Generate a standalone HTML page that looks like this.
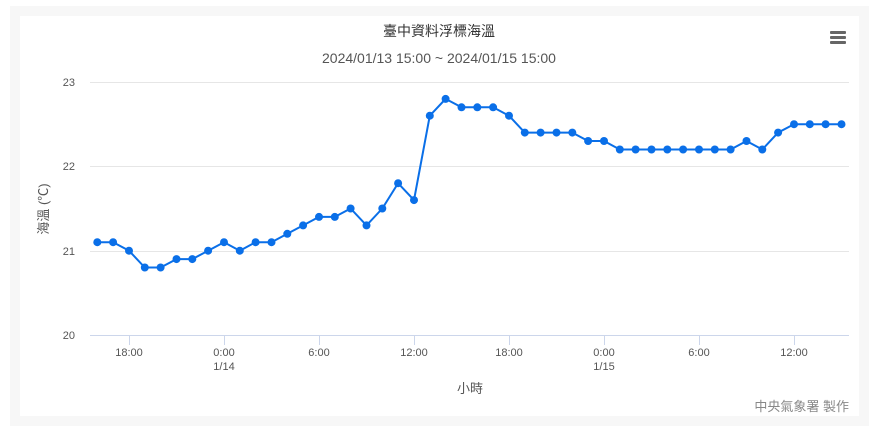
<!DOCTYPE html>
<html><head><meta charset="utf-8"><style>
html,body{margin:0;padding:0;background:#fff;}
body{width:873px;height:430px;position:relative;overflow:hidden;}
.outer{position:absolute;left:10px;top:6px;width:859px;height:420px;background:#f7f7f7;}
.inner{position:absolute;left:20px;top:16px;width:839px;height:400px;background:#fff;}
svg{position:absolute;left:0;top:0;}
text{font-family:"Liberation Sans","Noto Sans CJK TC",sans-serif;}
</style></head><body>
<div class="outer"></div><div class="inner"></div>
<svg width="873" height="430" xmlns="http://www.w3.org/2000/svg">
<defs><marker id="m" markerUnits="userSpaceOnUse" markerWidth="10" markerHeight="10" refX="5" refY="5" viewBox="0 0 10 10"><circle cx="5" cy="5" r="4" fill="#0a6fe8"/></marker></defs>
<text x="439" y="36" text-anchor="middle" font-size="14" fill="#333">臺中資料浮標海溫</text>
<text x="439" y="63" text-anchor="middle" font-size="14" fill="#555">2024/01/13 15:00 ~ 2024/01/15 15:00</text>
<g fill="#666"><rect x="830" y="31" width="16" height="3" rx="1"/><rect x="830" y="36" width="16" height="3" rx="1"/><rect x="830" y="41" width="16" height="3" rx="1"/></g>
<g stroke="#e6e6e6" stroke-width="1">
<line x1="90" x2="849" y1="82.5" y2="82.5"/><line x1="90" x2="849" y1="166.5" y2="166.5"/><line x1="90" x2="849" y1="251.5" y2="251.5"/>
</g>
<line x1="90" x2="849" y1="335.5" y2="335.5" stroke="#ccd6eb"/>
<g stroke="#ccd6eb"><line x1="129.5" x2="129.5" y1="335" y2="345"/><line x1="224.5" x2="224.5" y1="335" y2="345"/><line x1="319.5" x2="319.5" y1="335" y2="345"/><line x1="414.5" x2="414.5" y1="335" y2="345"/><line x1="509.5" x2="509.5" y1="335" y2="345"/><line x1="604.5" x2="604.5" y1="335" y2="345"/><line x1="699.5" x2="699.5" y1="335" y2="345"/><line x1="794.5" x2="794.5" y1="335" y2="345"/></g>
<g font-size="11" fill="#555" text-anchor="end"><text x="75" y="86">23</text><text x="75" y="170">22</text><text x="75" y="255">21</text><text x="75" y="339">20</text></g>
<g font-size="11" fill="#555" text-anchor="middle">
<text x="129" y="356">18:00</text><text x="224" y="356">0:00</text><text x="224" y="370">1/14</text><text x="319" y="356">6:00</text><text x="414" y="356">12:00</text><text x="509" y="356">18:00</text><text x="604" y="356">0:00</text><text x="604" y="370">1/15</text><text x="699" y="356">6:00</text><text x="794" y="356">12:00</text>
</g>
<text x="470" y="393" text-anchor="middle" font-size="13" fill="#555">小時</text>
<text transform="translate(48,209) rotate(-90)" text-anchor="middle" font-size="13" fill="#555">海溫 (℃)</text>
<text x="849" y="411" text-anchor="end" font-size="13" fill="#888">中央氣象署 製作</text>
<polyline fill="none" stroke="#0a6fe8" stroke-width="2" marker-start="url(#m)" marker-mid="url(#m)" marker-end="url(#m)" points="97.3,242.2 113.1,242.2 129.0,250.7 144.8,267.5 160.6,267.5 176.5,259.1 192.3,259.1 208.1,250.7 224.0,242.2 239.8,250.7 255.6,242.2 271.5,242.2 287.3,233.8 303.1,225.4 319.0,216.9 334.8,216.9 350.6,208.5 366.5,225.4 382.3,208.5 398.1,183.2 414.0,200.1 429.8,115.7 445.6,98.9 461.5,107.3 477.3,107.3 493.1,107.3 509.0,115.7 524.8,132.6 540.6,132.6 556.5,132.6 572.3,132.6 588.1,141.0 604.0,141.0 619.8,149.5 635.6,149.5 651.5,149.5 667.3,149.5 683.1,149.5 699.0,149.5 714.8,149.5 730.6,149.5 746.5,141.0 762.3,149.5 778.1,132.6 794.0,124.2 809.8,124.2 825.6,124.2 841.5,124.2"/>
</svg>
</body></html>
